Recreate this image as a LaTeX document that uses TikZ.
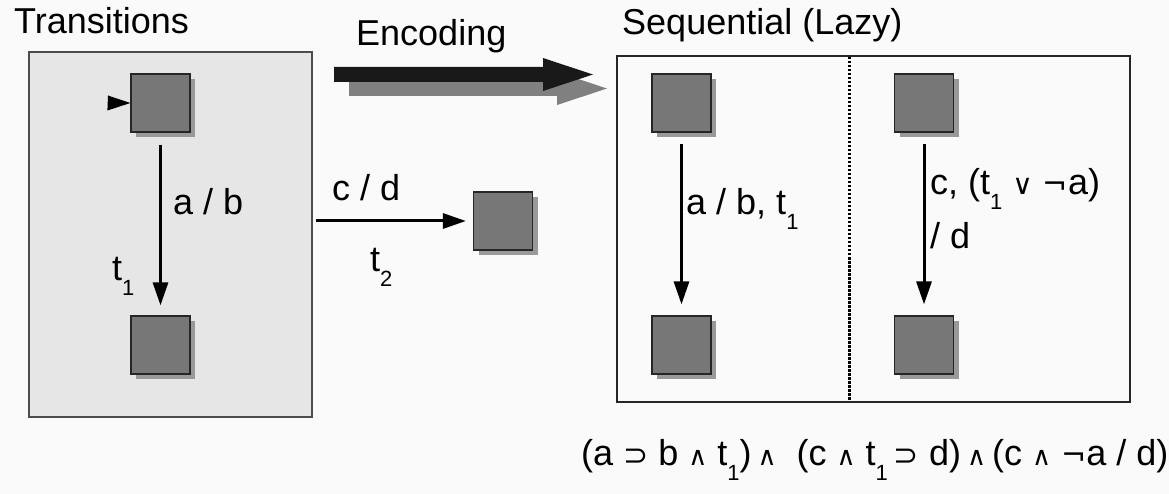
\documentclass[tikz,border=0pt]{standalone}
\usepackage{fontspec}
\setmainfont{Liberation Sans}
\newfontfamily\symf{DejaVu Sans}
\usetikzlibrary{arrows.meta,shadows}
\definecolor{bgc}{HTML}{FAFAFA}
\definecolor{boxgray}{HTML}{E6E6E6}
\definecolor{stfill}{HTML}{777777}
\definecolor{shad}{HTML}{999999}
\newcommand{\subn}[1]{\raisebox{-15pt}{\fontsize{22}{22}\selectfont #1}}
\newcommand{\sy}[1]{{\symf\fontsize{28}{36}\selectfont #1}}
\newcommand{\syf}[1]{{\symf\fontsize{26}{36}\selectfont #1}}
\newcommand{\syb}[1]{{\symf\fontsize{30}{36}\selectfont #1}}
\begin{document}
\begin{tikzpicture}[x=1pt,y=-1pt,
  state/.style={draw=black!85,line width=1.2pt,fill=stfill,minimum width=59pt,minimum height=58pt,inner sep=0pt,
    drop shadow={shadow xshift=5pt,shadow yshift=-5pt,fill=shad,opacity=1}},
  lbl/.style={anchor=base west,inner sep=0pt,font=\fontsize{36}{40}\selectfont},
  arr/.style={line width=3pt,-{Triangle[length=23pt,width=15pt]}}]
\useasboundingbox (0,0) rectangle (1169,494);
\fill[bgc] (0,0) rectangle (1169,494);
% boxes
\node[draw=black!70,line width=1.2pt,fill=boxgray,minimum width=283pt,minimum height=365pt,inner sep=0pt] (lbox) at (170.5,234.5) {};
\node[draw=black!85,line width=1.2pt,fill=bgc,minimum width=513pt,minimum height=346pt,inner sep=0pt] (rbox) at (873.5,229) {};
\coordinate (dtop) at (849,57);
\coordinate (dbot) at (849,400);
\draw[line width=3pt,dash pattern=on 2.5pt off 1.5pt] (dtop) -- (dbot);
% titles
\node[lbl] (tTrans) at (14,34) {Transitions};
\node[lbl] (tEnc) at (356,46) {Encoding};
\node[lbl] (tSeq) at (622,35) {Sequential (Lazy)};
% encoding arrow
\fill[black!50] (349,81) -- (557,81) -- (557,72) -- (607,88.5) -- (557,105) -- (557,96) -- (349,96) -- cycle;
\fill[black!90] (334,67) -- (543,67) -- (543,58) -- (593,74.5) -- (543,91) -- (543,82) -- (334,82) -- cycle;
% states
\node[state] (A1) at (160.5,103) {};
\node[state] (A2) at (160.5,345) {};
\node[state] (B) at (503,221) {};
\node[state] (S1) at (681.5,103) {};
\node[state] (S2) at (681.5,345) {};
\node[state] (T1) at (924,103) {};
\node[state] (T2) at (924,345) {};
% initial arrow
\coordinate (init) at (108,103);
\fill[black] (init) ++(0,-7.5) -- (A1.west) -- ++(-23,7.5) -- cycle;
% transitions
\draw[arr,shorten <=12pt,shorten >=10pt] (A1) -- (A2);
\draw[arr,shorten <=3pt,shorten >=7pt] (lbox.east |- B) -- (B);
\draw[arr,shorten <=11pt,shorten >=11pt] (S1) -- (S2);
\draw[arr,shorten <=11pt,shorten >=11pt] (T1) -- (T2);
% labels
\node[lbl] (lab1) at (173,215) {a / b};
\node[lbl] (lab2) at (112,280) {t\subn{1}};
\node[lbl] (lab3) at (332,201) {c / d};
\node[lbl] (lab4) at (370,272) {t\subn{2}};
\node[lbl] (lab5) at (686,215) {a / b, t\subn{1}};
\node[lbl] (lab6) at (930,195) {c, (t\subn{1} \sy{∨} \syb{¬}a)};
\node[lbl] (lab7) at (930,248) {/ d};
% formula
\node[lbl] (form) at (581,465) {(a \syb{⊃} b \syf{∧} t\subn{1})\,\syf{∧}\ \ (c \syf{∧} t\subn{1}\,\syb{⊃} d)\,\syf{∧}\,(c \syf{∧} \syb{¬}a / d)};
\end{tikzpicture}
\end{document}
